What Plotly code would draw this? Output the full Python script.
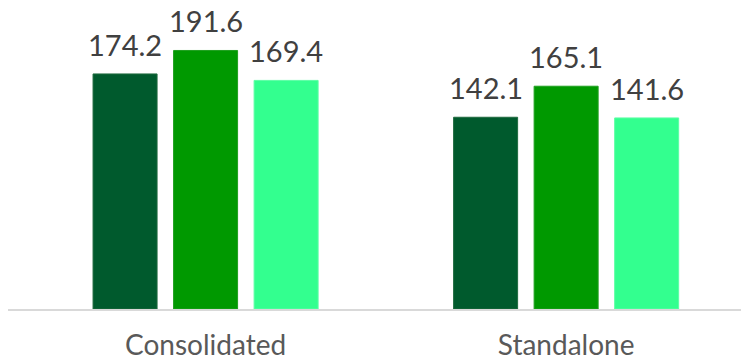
import plotly.graph_objects as go

categories = ["Consolidated", "Standalone"]
series_a = [174.2, 142.1]
series_b = [191.6, 165.1]
series_c = [169.4, 141.6]
colors = ["#005A2D", "#009900", "#33FF8F"]
edges = ["#1F6B3F", "#1FA01F", "#5CFFA5"]

# pixel spacing between neighbouring bars inside a group
slot_px = 80.5

fig = go.Figure()
all_series = [series_a, series_b, series_c]
for k, (vals, col, edge) in enumerate(zip(all_series, colors, edges)):
    fig.add_trace(go.Bar(
        x=categories, y=vals,
        marker=dict(color=col, line=dict(color=edge, width=1)),
        showlegend=False,
        hoverinfo="x+y",
    ))
    for cat, v in zip(categories, vals):
        fig.add_annotation(
            x=cat, y=v, text=f"{v:.1f}", showarrow=False,
            xanchor="center", yanchor="bottom",
            xshift=(k - 1) * slot_px, yshift=10,
            font=dict(family="Lato", size=29, color="#404040"),
        )

fig.update_layout(
    width=741, height=362,
    margin=dict(l=8, r=0, t=0, b=53, autoexpand=False),
    paper_bgcolor="white", plot_bgcolor="white",
    barmode="group", bargap=0.33, bargroupgap=0.205,
    xaxis=dict(
        range=[-0.548, 1.485],
        automargin=False,
        showline=True, linecolor="#D9D9D9", linewidth=2,
        ticks="outside", ticklen=10, tickcolor="rgba(0,0,0,0)",
        tickfont=dict(family="Lato", size=28, color="#595959"),
        showgrid=False, zeroline=False,
    ),
    yaxis=dict(range=[0, 229], visible=False, showgrid=False,
               automargin=False),
)

fig.write_html("out.html")
